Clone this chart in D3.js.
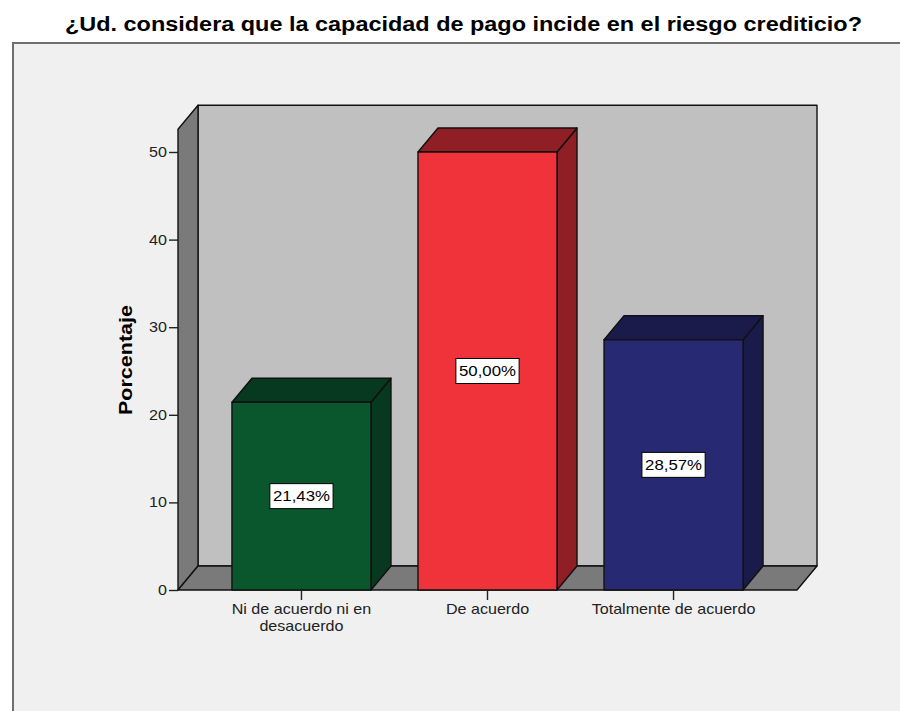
<!DOCTYPE html>
<html>
<head>
<meta charset="utf-8">
<script src="https://cdn.jsdelivr.net/npm/d3@7"></script>
<style>
  html, body { margin: 0; padding: 0; background: #ffffff; }
  svg { display: block; }
  text { font-family: Arial, "Liberation Sans", sans-serif; }
</style>
</head>
<body>
<script>
// Survey answers and their share of respondents (percent)
const categories = ["Ni de acuerdo ni en desacuerdo", "De acuerdo", "Totalmente de acuerdo"];
const categoryLines = [["Ni de acuerdo ni en", "desacuerdo"], ["De acuerdo"], ["Totalmente de acuerdo"]];
const values = [21.43, 50.00, 28.57];
const frontColors = ["#0b572d", "#f0323a", "#272a72"];
const shadeColors = ["#073820", "#8f1f24", "#1a1b4a"];
const yTicks = [0, 10, 20, 30, 40, 50];
const yMax = 52.6;

const title = "¿Ud. considera que la capacidad de pago incide en el riesgo crediticio?";
const yTitle = "Porcentaje";

const W = 900, H = 711;
const SX = 1.15; // horizontal stretch of the small labels
const svg = d3.select("body").append("svg").attr("width", W).attr("height", H);

// outer chart frame
svg.append("rect")
  .attr("x", 13).attr("y", 43).attr("width", W + 20).attr("height", H)
  .attr("fill", "#f0f0f0").attr("stroke", "#6f6f6f").attr("stroke-width", 2);

svg.append("text")
  .attr("x", 65).attr("y", 31)
  .attr("font-size", 20).attr("font-weight", "bold").attr("fill", "#000")
  .attr("textLength", 797).attr("lengthAdjust", "spacingAndGlyphs")
  .text(title);

// scales (front plane of the 3D box)
const x = d3.scaleBand().domain(categories).range([178, 797])
  .paddingInner(0.2527).paddingOuter(0.29);
const y = d3.scaleLinear().domain([0, yMax]).range([590, 590 - yMax * 8.76]);

// depth offset of the 3D box
const dx = 20, dy = -24;
const x0 = x.range()[0], x1 = x.range()[1];
const yb = y(0), yt = y(yMax);

const poly = pts => "M" + pts.map(p => p.join(",")).join("L") + "Z";
function styled(sel) {
  return sel.attr("stroke", "#111").attr("stroke-width", 1.4).attr("stroke-linejoin", "round");
}

const g = svg.append("g");

// back wall
styled(g.append("path")
  .attr("d", poly([[x0 + dx, yt + dy], [x1 + dx, yt + dy], [x1 + dx, yb + dy], [x0 + dx, yb + dy]]))
  .attr("fill", "#c0c0c0"));
// left wall
styled(g.append("path")
  .attr("d", poly([[x0, yt], [x0 + dx, yt + dy], [x0 + dx, yb + dy], [x0, yb]]))
  .attr("fill", "#7a7a7a"));
// floor
styled(g.append("path")
  .attr("d", poly([[x0, yb], [x0 + dx, yb + dy], [x1 + dx, yb + dy], [x1, yb]]))
  .attr("fill", "#7a7a7a"));

// bars
const bars = g.selectAll("g.bar").data(values).join("g").attr("class", "bar");
bars.each(function (v, i) {
  const b = d3.select(this);
  const xl = x(categories[i]), xr = xl + x.bandwidth(), ytop = y(v);
  styled(b.append("path")
    .attr("d", poly([[xr, ytop], [xr + dx, ytop + dy], [xr + dx, yb + dy], [xr, yb]]))
    .attr("fill", shadeColors[i]));
  styled(b.append("path")
    .attr("d", poly([[xl, ytop], [xl + dx, ytop + dy], [xr + dx, ytop + dy], [xr, ytop]]))
    .attr("fill", shadeColors[i]));
  styled(b.append("rect")
    .attr("x", xl).attr("y", ytop).attr("width", x.bandwidth()).attr("height", yb - ytop)
    .attr("fill", frontColors[i]));
});

// value labels centred in each bar
const fmt = v => d3.format(".2f")(v).replace(".", ",") + "%";
bars.each(function (v, i) {
  const cx = x(categories[i]) + x.bandwidth() / 2, cy = y(v / 2);
  const lg = d3.select(this).append("g").attr("transform", `translate(${cx},${cy})`);
  const t = lg.append("text")
    .attr("x", 0).attr("y", 5).attr("transform", "scale(1.2,1)")
    .attr("text-anchor", "middle").attr("font-size", 14).attr("fill", "#000")
    .text(fmt(v));
  const w = t.node().getBBox().width * 1.2;
  lg.insert("rect", "text")
    .attr("x", -w / 2 - 3).attr("y", -12.5).attr("width", w + 6).attr("height", 25)
    .attr("fill", "#fff").attr("stroke", "#000").attr("stroke-width", 1);
});

// y axis
const yAxis = svg.append("g").attr("transform", `translate(${x0},0)`)
  .call(d3.axisLeft(y).tickValues(yTicks).tickSize(9).tickFormat(d3.format("d")));
yAxis.select(".domain").remove();
yAxis.selectAll(".tick line").attr("stroke", "#222").attr("stroke-width", 1.4);
yAxis.selectAll(".tick text")
  .attr("x", -11 / SX).attr("transform", `scale(${SX},1)`)
  .attr("font-size", 14).attr("fill", "#222")
  .attr("font-family", "Arial, 'Liberation Sans', sans-serif");

// x axis
const xAxis = svg.append("g").attr("transform", `translate(0,${yb})`)
  .call(d3.axisBottom(x).tickSize(10).tickFormat(""));
xAxis.select(".domain").remove();
xAxis.selectAll(".tick line").attr("stroke", "#222").attr("stroke-width", 1.4);
xAxis.selectAll(".tick").each(function (d, i) {
  const t = d3.select(this).append("text")
    .attr("transform", `scale(${SX},1)`)
    .attr("text-anchor", "middle").attr("font-size", 14).attr("fill", "#222")
    .attr("font-family", "Arial, 'Liberation Sans', sans-serif");
  categoryLines[i].forEach((line, k) => {
    t.append("tspan").attr("x", 0).attr("y", 24 + k * 17).text(line);
  });
});

// y axis title
svg.append("text")
  .attr("transform", "translate(132,360) rotate(-90)")
  .attr("x", -55).attr("y", 0)
  .attr("font-size", 18).attr("font-weight", "bold").attr("fill", "#000")
  .attr("textLength", 110).attr("lengthAdjust", "spacingAndGlyphs")
  .text(yTitle);
</script>
</body>
</html>
